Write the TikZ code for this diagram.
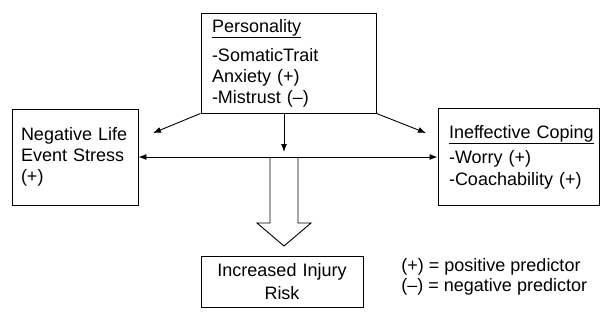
\documentclass[tikz,border=0pt]{standalone}
\usepackage{fontspec}
\setmainfont{Liberation Sans}
\usepackage{tikz}
\usetikzlibrary{positioning,arrows.meta}

\begin{document}
\begin{tikzpicture}
      [ x=1pt, y=-1pt, line width=0.9pt,
        >={Latex[length=8pt,width=6pt]},
        box/.style={draw, inner ysep=0pt, align=left,
                    font=\fontsize{18}{21}\selectfont},
        legend/.style={align=left, inner sep=0pt,
                    font=\fontsize{18}{20}\selectfont}
      ]
      \useasboundingbox (0,0) rectangle (601,325);

      \node[box, inner xsep=11, text width=153, minimum height=100] (pers)    at (288.5,63)
            {\underline{Personality}\\[8pt]-SomaticTrait\\Anxiety (+)\\-Mistrust (\textendash)};
      \node[box, inner xsep=9,  text width=108, minimum height=96]  (life)    at (75,157)
            {Negative Life\\Event Stress\\(+)};
      \node[box, inner xsep=11, text width=139, minimum height=97]  (cope)    at (518.5,157)
            {\underline{Ineffective Coping}\\[4pt]-Worry (+)\\[1pt]-Coachability (+)};
      \node[box, inner xsep=6,  text width=150, minimum height=51, align=center] (risk) at (282,281.5)
            {Increased Injury\\[2pt]Risk};
      \node[legend, anchor=west] (key) at (401,277)
            {(+) = positive predictor\\(\textendash) = negative predictor};

      \coordinate (lifeend)  at (153,133);
      \coordinate (copeend)  at (426,133);
      \coordinate (splitend) at (284,152);
      \coordinate (hub)      at (284,157);

      \draw[->]  (pers.south west) -- (lifeend);
      \draw[->]  (pers.south east) -- (copeend);
      \draw[->]  (pers.south -| splitend) -- (splitend);
      \draw[<->] (life) -- (cope);

      % hollow arrow down to the risk box
      \draw (hub) ++(-14,0) -- ++(0,66) -- ++(-13,0) -- ++(27,23)
                  -- ++(27,-23) -- ++(-13,0) -- ++(0,-66);
\end{tikzpicture}
\end{document}
